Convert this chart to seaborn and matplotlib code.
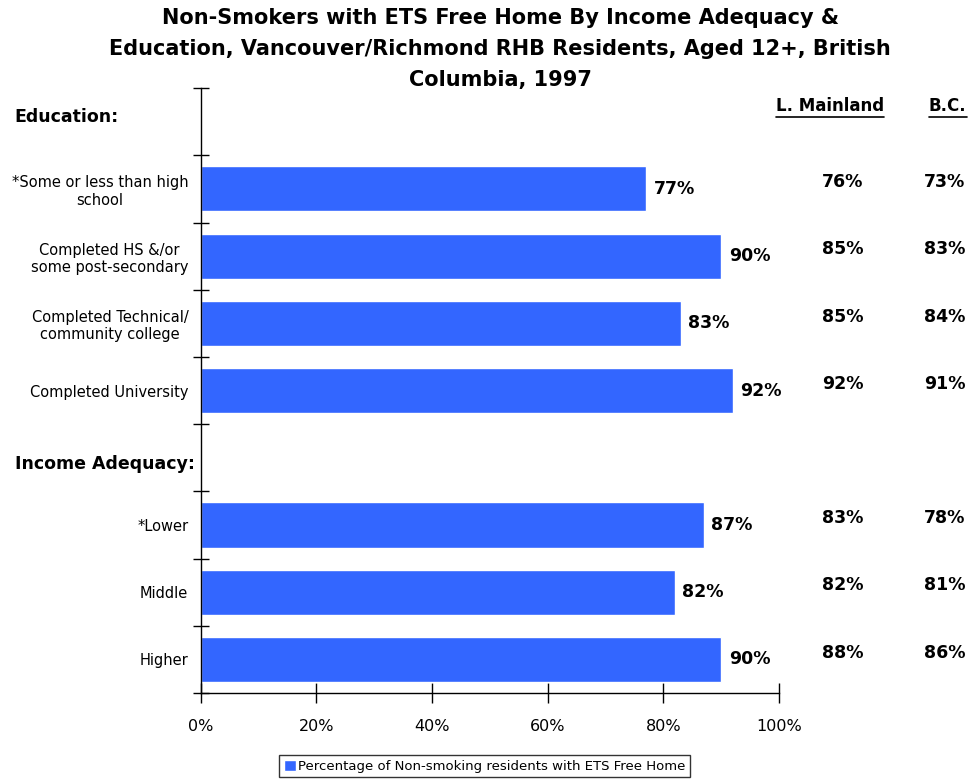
import matplotlib.pyplot as plt
import matplotlib.transforms as mtransforms
from matplotlib.lines import Line2D
import pandas as pd
import seaborn as sns

# chart data
groups = ["Education:",
          "*Some or less than high\nschool",
          "Completed HS &/or\nsome post-secondary",
          "Completed Technical/\ncommunity college",
          "Completed University",
          "Income Adequacy:",
          "*Lower",
          "Middle",
          "Higher"]
is_header = [True, False, False, False, False, True, False, False, False]
home_pct = [None, 77, 90, 83, 92, None, 87, 82, 90]
mainland_pct = [None, 76, 85, 85, 92, None, 83, 82, 88]
bc_pct = [None, 73, 83, 84, 91, None, 78, 81, 86]
x_ticks = [0, 20, 40, 60, 80, 100]

df = pd.DataFrame({"group": groups, "pct": home_pct})

sns.set_theme(style="white")
plt.rcParams['font.family'] = ['DejaVu Sans']
plt.rcParams['text.color'] = 'black'
plt.rcParams['xtick.color'] = 'black'
plt.rcParams['ytick.color'] = 'black'

fig = plt.figure(figsize=(9.75, 7.8), dpi=100)
ax = fig.add_axes([0.206, 0.1115, 0.593, 0.7755])

sns.barplot(data=df, x="pct", y="group", order=groups, color="#3366FF",
            saturation=1, width=0.67, ax=ax,
            label="Percentage of Non-smoking residents with ETS Free Home")
if ax.get_legend() is not None:
    ax.get_legend().remove()

ax.set_xlim(0, 100)
ax.set_ylim(len(groups) - 0.5, -0.5)
ax.set_xlabel("")
ax.set_ylabel("")

# spines / ticks
sns.despine(ax=ax, top=True, right=True)
for s in ["left", "bottom"]:
    ax.spines[s].set_color("black")
    ax.spines[s].set_linewidth(1)
ax.set_xticks(x_ticks)
ax.set_xticklabels([f"{t}%" for t in x_ticks], fontsize=11.5)
ax.tick_params(axis="x", bottom=True, direction="inout", length=14, width=1, pad=12)
ax.set_yticks(range(len(groups)))
ax.set_yticklabels(["" if h else g for g, h in zip(groups, is_header)], fontsize=10.5)
for t in ax.get_yticklabels():
    t.set_multialignment("center")
ax.tick_params(axis="y", which="major", left=True, length=0, pad=9)
ax.set_yticks([i - 0.5 for i in range(len(groups) + 1)], minor=True)
ax.tick_params(axis="y", which="minor", left=True, direction="inout", length=12, width=1)

# section headers
blend = mtransforms.blended_transform_factory(fig.transFigure, ax.transData)
header_dy = {0: -0.07, 5: 0.09}
for i, (g, h) in enumerate(zip(groups, is_header)):
    if h:
        ax.text(0.015, i + header_dy[i], g, transform=blend, ha="left", va="center",
                fontsize=12.5, fontweight="bold")

# bar value labels
for i, v in enumerate(home_pct):
    if v is not None:
        ax.text(v + 1.3, i, f"{v}%", ha="left", va="center",
                fontsize=12.5, fontweight="bold")

# comparison columns
cols = mtransforms.blended_transform_factory(ax.transAxes, ax.transData)
for i, (m, b) in enumerate(zip(mainland_pct, bc_pct)):
    if m is not None:
        ax.text(1.11, i - 0.1, f"{m}%", transform=cols, ha="center", va="center",
                fontsize=12.5, fontweight="bold")
        ax.text(1.287, i - 0.1, f"{b}%", transform=cols, ha="center", va="center",
                fontsize=12.5, fontweight="bold")

heads = [fig.text(0.851, 0.864, "L. Mainland", ha="center", va="center",
                  fontsize=12, fontweight="bold"),
         fig.text(0.972, 0.864, "B.C.", ha="center", va="center",
                  fontsize=12, fontweight="bold")]

fig.suptitle("Non-Smokers with ETS Free Home By Income Adequacy &\n"
             "Education, Vancouver/Richmond RHB Residents, Aged 12+, British\n"
             "Columbia, 1997",
             x=0.513, y=0.99, fontsize=15, fontweight="bold", linespacing=1.7)

leg = fig.legend(loc="lower center", bbox_to_anchor=(0.497, 0.0), fontsize=9.5,
                 frameon=True, fancybox=False, edgecolor="black",
                 handlelength=0.9, handleheight=0.9, handletextpad=0.2,
                 borderpad=0.35, borderaxespad=0.2)
leg.get_frame().set_linewidth(1)

# underline the column headers
fig.canvas.draw()
renderer = fig.canvas.get_renderer()
inv = fig.transFigure.inverted()
for t in heads:
    bb = t.get_window_extent(renderer).transformed(inv)
    fig.add_artist(Line2D([bb.x0, bb.x1], [bb.y0 - 0.002, bb.y0 - 0.002],
                          transform=fig.transFigure, color="black", lw=1.2))

fig.savefig("out.png", dpi=100)
